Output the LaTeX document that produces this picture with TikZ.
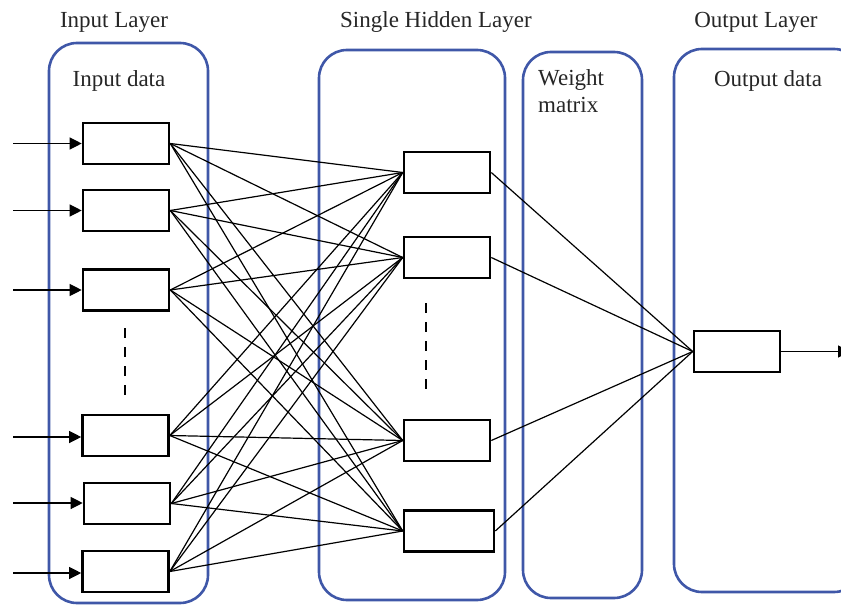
\documentclass[tikz,border=0pt]{standalone}
\usepackage{fontspec}
\setmainfont{Liberation Serif}
\usetikzlibrary{arrows.meta}
\definecolor{layerblue}{RGB}{63,87,168}
\begin{document}
\begin{tikzpicture}[x=1pt,y=-1pt,
  layer/.style={draw=layerblue,line width=2.6pt,rounded corners=28pt,inner sep=0pt},
  neuron/.style={draw=black,line width=2.6pt,fill=white,minimum width=86pt,minimum height=41pt,inner sep=0pt},
  title/.style={font=\fontsize{23}{27}\selectfont,text=black!85,inner sep=0pt},
  link/.style={line width=1.2pt},
  feed/.style={line width=1.2pt,-{Triangle[length=12pt,width=12pt]}},
  dots/.style={line width=2.5pt,dash pattern=on 10pt off 9pt}]
\useasboundingbox (0,0) rectangle (841,605);
% layer frames
\node[layer,minimum width=159pt,minimum height=560pt] (Lin) at (128.5,323) {};
\node[layer,minimum width=186pt,minimum height=550pt] (Lhid) at (412,325) {};
\node[layer,minimum width=119pt,minimum height=546pt] (Lw) at (582.5,325) {};
\node[layer,minimum width=188pt,minimum height=543pt] (Lout) at (768,320.5) {};
% titles
\node[title] (tin) at (114,22) {Input Layer};
\node[title] (thid) at (436,22) {Single Hidden Layer};
\node[title] (tout) at (756,22) {Output Layer};
\node[title] (din) at (119,81) {Input data};
\node[title] (dout) at (768,81) {Output data};
\node[title,anchor=north west,align=left] (wm) at (538,69) {Weight\\matrix};
% input neurons
\node[neuron] (i1) at (126,143.5) {};
\node[neuron] (i2) at (126,210.5) {};
\node[neuron] (i3) at (126,290) {};
\node[neuron] (i4) at (125.5,435.5) {};
\node[neuron] (i5) at (127,503.5) {};
\node[neuron] (i6) at (125.5,571.5) {};
% hidden neurons
\node[neuron] (h1) at (447,172.5) {};
\node[neuron] (h2) at (447,257.5) {};
\node[neuron] (h3) at (447,440.5) {};
\node[neuron,minimum width=90pt] (h4) at (449,531) {};
% output neuron
\node[neuron] (o1) at (737,351.5) {};
% input arrows
\foreach \n/\y in {i1/143.5,i2/210.5,i3/290,i4/437,i5/503,i6/573}{
  \coordinate (s\n) at (13,\y);
  \draw[feed] (s\n) -- (\n.west |- s\n);
}
% input -> hidden
\foreach \i in {i1,i2,i3,i4,i5,i6}{
  \foreach \h in {h1,h2,h3,h4}{
    \draw[link] (\i.east) -- (\h.west);
  }
}
% hidden -> output
\foreach \h in {h1,h2,h3,h4}{
  \draw[link] (\h.east) -- (o1.west);
}
% output arrow
\coordinate (oend) at (850,351.5);
\draw[feed] (o1.east) -- (oend);
% ellipsis dashes
\coordinate (da) at (125,328);
\coordinate (db) at (125,396);
\draw[dots] (da) -- (db);
\coordinate (dc) at (426,303);
\coordinate (dd) at (426,390);
\draw[dots] (dc) -- (dd);
\end{tikzpicture}
\end{document}
